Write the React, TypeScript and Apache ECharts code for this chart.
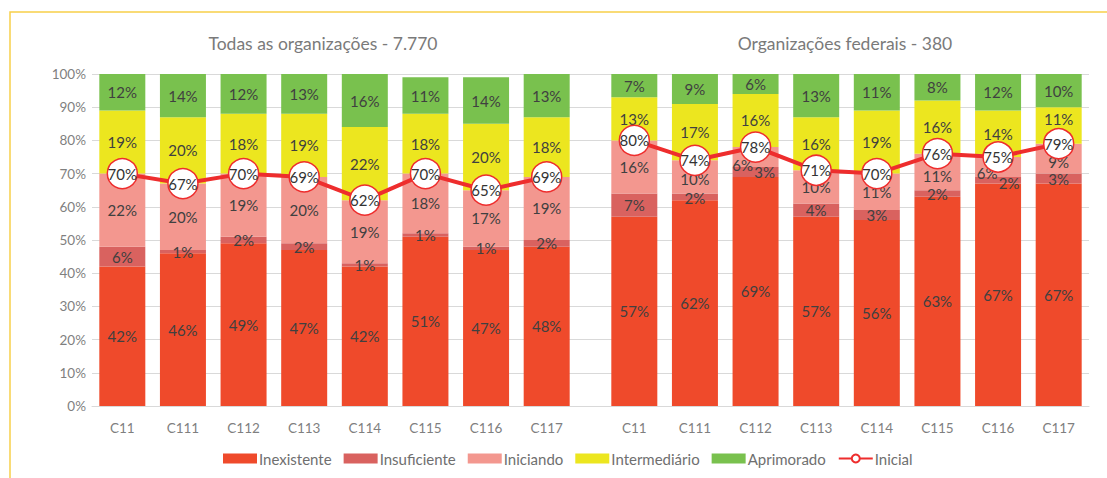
import React, { useEffect, useRef } from "react";
import * as echarts from "echarts";

const categories = ["C11", "C111", "C112", "C113", "C114", "C115", "C116", "C117"];
const seriesNames = ["Inexistente", "Insuficiente", "Iniciando", "Intermediário", "Aprimorado"];
const lineName = "Inicial";

const groupTitles = ["Todas as organizações - 7.770", "Organizações federais - 380"];

const todasInexistente = [42, 46, 49, 47, 42, 51, 47, 48];
const todasInsuficiente = [6, 1, 2, 2, 1, 1, 1, 2];
const todasIniciando = [22, 20, 19, 20, 19, 18, 17, 19];
const todasIntermediario = [19, 20, 18, 19, 22, 18, 20, 18];
const todasAprimorado = [12, 14, 12, 13, 16, 11, 14, 13];
const todasInicial = [70, 67, 70, 69, 62, 70, 65, 69];

const federaisInexistente = [57, 62, 69, 57, 56, 63, 67, 67];
const federaisInsuficiente = [7, 2, 3, 4, 3, 2, 2, 3];
const federaisIniciando = [16, 10, 6, 10, 11, 11, 6, 9];
const federaisIntermediario = [13, 17, 16, 16, 19, 16, 14, 11];
const federaisAprimorado = [7, 9, 6, 13, 11, 8, 12, 10];
const federaisInicial = [80, 74, 78, 71, 70, 76, 75, 79];

const yTicks = [0, 10, 20, 30, 40, 50, 60, 70, 80, 90, 100];

// style-only config
const colors = ["#EF4A2B", "#D9625F", "#F3978F", "#ECE61F", "#79C14E"];
const lineColor = "#EE2D2D";
const FONT = "Lato";
// label offsets (group, series index, category index) -> [dx, dy]
const labelOffsets: Record<string, number[]> = {
  "1-2-2": [-13, 8],
  "1-1-2": [9, 0],
  "1-2-6": [-11, 6],
  "1-1-6": [11, 3],
  "1-2-1": [0, 2],
  "1-1-1": [0, 1],
  "1-2-5": [0, 4],
  "1-2-7": [0, 3],
  "1-3-7": [0, -6],
};

export default function App() {
  const ref = useRef<HTMLDivElement>(null);
  useEffect(() => {
    document.body.style.margin = "0";
    const chart = echarts.init(ref.current!, undefined, { renderer: "svg" });
    const groups = [
      {
        bars: [todasInexistente, todasInsuficiente, todasIniciando, todasIntermediario, todasAprimorado],
        line: todasInicial,
      },
      {
        bars: [federaisInexistente, federaisInsuficiente, federaisIniciando, federaisIntermediario, federaisAprimorado],
        line: federaisInicial,
      },
    ];
    const gridTop = 74;
    const gridH = 332;
    const grids = [
      { left: 92, top: gridTop, width: 485, height: gridH },
      { left: 604, top: gridTop, width: 485, height: gridH },
      { left: 577, top: gridTop, width: 27, height: gridH },
    ];
    const yAxisBase = (gi: number) => ({
      type: "value",
      gridIndex: gi,
      min: 0,
      max: 100,
      interval: 10,
      axisLine: { show: false },
      axisTick: { show: false },
      splitLine: { show: true, lineStyle: { color: "#D9D9D9", width: 1 } },
      axisLabel: {
        show: gi === 0,
        formatter: (v: number) => (yTicks.includes(v) ? v + "%" : ""),
        color: "#7F7F7F",
        fontFamily: FONT,
        fontSize: 13.5,
        margin: 6,
      },
    });
    const xAxes: any[] = [0, 1].map((gi) => ({
      type: "category",
      gridIndex: gi,
      data: categories,
      axisLine: { show: true, lineStyle: { color: "#D9D9D9" } },
      axisTick: { show: false },
      axisLabel: { color: "#7F7F7F", fontFamily: FONT, fontSize: 13.5, margin: 15 },
    }));
    xAxes.push({ type: "value", gridIndex: 2, min: 0, max: 1, show: false });
    const yAxes = [yAxisBase(0), yAxisBase(1), yAxisBase(2)];

    const series: any[] = [];
    groups.forEach((g, gi) => {
      g.bars.forEach((vals, si) => {
        series.push({
          type: "bar",
          name: seriesNames[si],
          xAxisIndex: gi,
          yAxisIndex: gi,
          stack: "g" + gi,
          barWidth: 46,
          itemStyle: { color: colors[si] },
          label: {
            show: true,
            position: "inside",
            formatter: "{c}%",
            color: "#404040",
            fontFamily: FONT,
            fontSize: 15,
          },
          data: vals.map((v, ci) => {
            const off = labelOffsets[gi + "-" + si + "-" + ci];
            return off ? { value: v, label: { offset: off } } : v;
          }),
        });
      });
      series.push({
        type: "line",
        name: lineName,
        xAxisIndex: gi,
        yAxisIndex: gi,
        z: 5,
        symbol: "circle",
        symbolSize: 30,
        lineStyle: { color: lineColor, width: 4 },
        itemStyle: { color: "#FFFFFF", borderColor: lineColor, borderWidth: 1.5 },
        label: {
          show: true,
          position: "inside",
          formatter: "{c}%",
          color: "#333333",
          fontFamily: FONT,
          fontSize: 15,
        },
        data: g.line,
      });
    });

    chart.setOption({
      animation: false,
      textStyle: { fontFamily: FONT },
      grid: grids,
      xAxis: xAxes,
      yAxis: yAxes,
      legend: {
        left: 218,
        top: 446,
        itemWidth: 34,
        itemHeight: 10,
        itemGap: 12,
        textStyle: { color: "#6F6F6F", fontFamily: FONT, fontSize: 15, padding: [0, 0, 0, -3] },
        data: [...seriesNames.map((n) => ({ name: n, icon: "rect" })), { name: lineName }],
      },
      graphic: [
        {
          type: "rect",
          silent: true,
          shape: { x: 10, y: 12, width: 1300, height: 700 },
          style: { fill: "none", stroke: "#F8CF4A", lineWidth: 1.5 },
        },
        {
          type: "text",
          x: 323,
          y: 43,
          style: {
            text: groupTitles[0],
            fill: "#7A7A7A",
            font: `17.5px ${FONT}`,
            textAlign: "center",
            textVerticalAlign: "middle",
          },
        },
        {
          type: "text",
          x: 845,
          y: 43,
          style: {
            text: groupTitles[1],
            fill: "#7A7A7A",
            font: `17.5px ${FONT}`,
            textAlign: "center",
            textVerticalAlign: "middle",
          },
        },
      ],
      series,
    });
    return () => chart.dispose();
  }, []);
  return <div ref={ref} style={{ width: 1107, height: 478 }} />;
}
